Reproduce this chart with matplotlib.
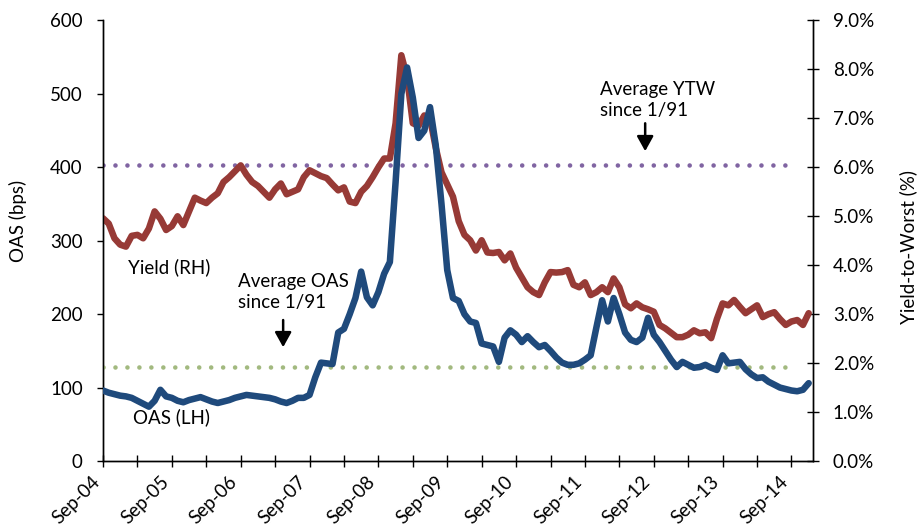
import numpy as np
import matplotlib
matplotlib.use("Agg")
import matplotlib.pyplot as plt

plt.rcParams['font.family'] = ['Lato', 'DejaVu Sans']

# Monthly data, Sep-04 .. Dec-14
oas = [96, 93, 91, 89, 88, 86, 82, 78, 74, 82, 97, 88, 86, 82, 80, 83, 85, 87, 84, 81,
       79, 81, 83, 86, 88, 90, 89, 88, 87, 86, 84, 81, 79, 82, 86, 86, 90, 114, 134, 133,
       132, 175, 180, 200, 222, 258, 223, 212, 230, 255, 271, 380, 500, 536, 495, 440, 450, 482, 430, 350,
       260, 222, 218, 200, 190, 188, 160, 158, 156, 135, 168, 178, 172, 162, 170, 162, 155, 158, 150, 141,
       134, 131, 131, 133, 138, 144, 182, 219, 190, 222, 200, 175, 165, 162, 168, 195, 172, 162, 150, 138,
       128, 135, 131, 127, 128, 131, 127, 124, 144, 133, 134, 135, 125, 118, 113, 114, 108, 104, 100, 98,
       96, 95, 97, 106]
ytw = [4.96, 4.85, 4.55, 4.42, 4.38, 4.60, 4.62, 4.55, 4.75, 5.10, 4.95, 4.72, 4.80, 5.00, 4.82, 5.10, 5.38, 5.32, 5.27, 5.38,
       5.47, 5.70, 5.80, 5.92, 6.04, 5.85, 5.70, 5.62, 5.50, 5.38, 5.55, 5.67, 5.45, 5.50, 5.55, 5.80, 5.94, 5.88, 5.82, 5.78,
       5.65, 5.53, 5.59, 5.30, 5.27, 5.50, 5.62, 5.80, 6.00, 6.18, 6.18, 6.90, 8.29, 7.84, 6.90, 6.85, 7.06, 7.00, 6.40, 5.90,
       5.65, 5.40, 4.90, 4.62, 4.51, 4.30, 4.51, 4.26, 4.25, 4.27, 4.10, 4.24, 3.95, 3.75, 3.55, 3.45, 3.39, 3.65, 3.86, 3.85,
       3.86, 3.90, 3.60, 3.55, 3.65, 3.39, 3.45, 3.55, 3.45, 3.73, 3.55, 3.20, 3.12, 3.22, 3.14, 3.10, 3.05, 2.78, 2.71, 2.62,
       2.53, 2.53, 2.58, 2.67, 2.61, 2.63, 2.51, 2.90, 3.22, 3.18, 3.29, 3.15, 3.02, 3.10, 3.18, 2.94, 3.00, 3.04, 2.90, 2.78,
       2.85, 2.88, 2.78, 3.02]
avg_oas = 128          # bps, since 1/91
avg_ytw = 6.05         # %, since 1/91
avg_span_months = 120  # months covered by the average lines

tick_labels = ['Sep-04', 'Sep-05', 'Sep-06', 'Sep-07', 'Sep-08', 'Sep-09',
               'Sep-10', 'Sep-11', 'Sep-12', 'Sep-13', 'Sep-14']

BLUE = '#1F4A7C'
RED = '#973A36'
PURPLE = '#8064A2'
GREEN = '#A2B97F'
FS = 13.5

fig = plt.figure(figsize=(9.18, 5.29), dpi=100)
ax = fig.add_axes([103/918, 1-461/529, (812.7-103)/918, (461-20.5)/529])
ax2 = ax.twinx()

x = np.arange(len(oas))
xa = np.array([0, avg_span_months - 0.5])

dot = dict(linestyle=(0, (0.01, 2.6)), dash_capstyle='round', linewidth=3.3)
ax.plot(xa, [avg_oas, avg_oas], color=GREEN, **dot, zorder=2)
ax2.plot(xa, [avg_ytw, avg_ytw], color=PURPLE, **dot, zorder=2)

ax.plot(x, oas, color=BLUE, linewidth=4.7, solid_joinstyle='round', solid_capstyle='round', zorder=3)
ax2.plot(x, ytw, color=RED, linewidth=4.7, solid_joinstyle='round', solid_capstyle='round', zorder=3)

ax.set_zorder(ax2.get_zorder() + 1)
ax.patch.set_visible(False)

ax.set_xlim(0, 123.7)
ax.set_ylim(0, 600)
ax2.set_ylim(0, 9)
ax.set_yticks(np.arange(0, 601, 100))
ax2.set_yticks(np.arange(0, 9.01, 1))
ax2.set_yticklabels([f'{v:.1f}%' for v in np.arange(0, 9.01, 1)])

major = np.arange(0, 121, 12)
minor = np.arange(6, 121, 12)
ax.set_xticks(major)
ax.set_xticks(minor, minor=True)
ax.set_xticklabels(tick_labels, rotation=45, ha='right', rotation_mode='default')

for a in (ax, ax2):
    for s in a.spines.values():
        s.set_color('black')
        s.set_linewidth(1.0)
    a.spines['top'].set_visible(False)

ax.tick_params(axis='y', direction='out', length=4.5, width=1, labelsize=FS, pad=10)
ax.tick_params(axis='x', which='both', direction='inout', length=9, width=1, labelsize=FS, pad=4)
ax2.tick_params(axis='y', direction='inout', length=9, width=1, labelsize=FS, pad=10)

fig.text(18/918, 1-221/529, 'OAS (bps)', rotation=90, ha='center', va='center', fontsize=FS)
fig.text(908/918, 1-247/529, 'Yield-to-Worst (%)', rotation=90, ha='center', va='center', fontsize=FS)

ax.text(4.4, 264, 'Yield (RH)', ha='left', va='center', fontsize=FS)
ax.text(5.2, 60, 'OAS (LH)', ha='left', va='center', fontsize=FS)
ax.text(23.5, 230, 'Average OAS\nsince 1/91', ha='left', va='center', fontsize=FS, linespacing=1.3)
ax.text(86.6, 492, 'Average YTW\nsince 1/91', ha='left', va='center', fontsize=FS, linespacing=1.3)

arrow = dict(arrowstyle='-|>,head_width=0.5,head_length=0.9', color='black', lw=1.8,
             shrinkA=0, shrinkB=0)
ax.annotate('', xy=(31.4, 155), xytext=(31.4, 192), arrowprops=arrow)
ax.annotate('', xy=(94.5, 422), xytext=(94.5, 460), arrowprops=arrow)

fig.savefig('out.png', dpi=100)
